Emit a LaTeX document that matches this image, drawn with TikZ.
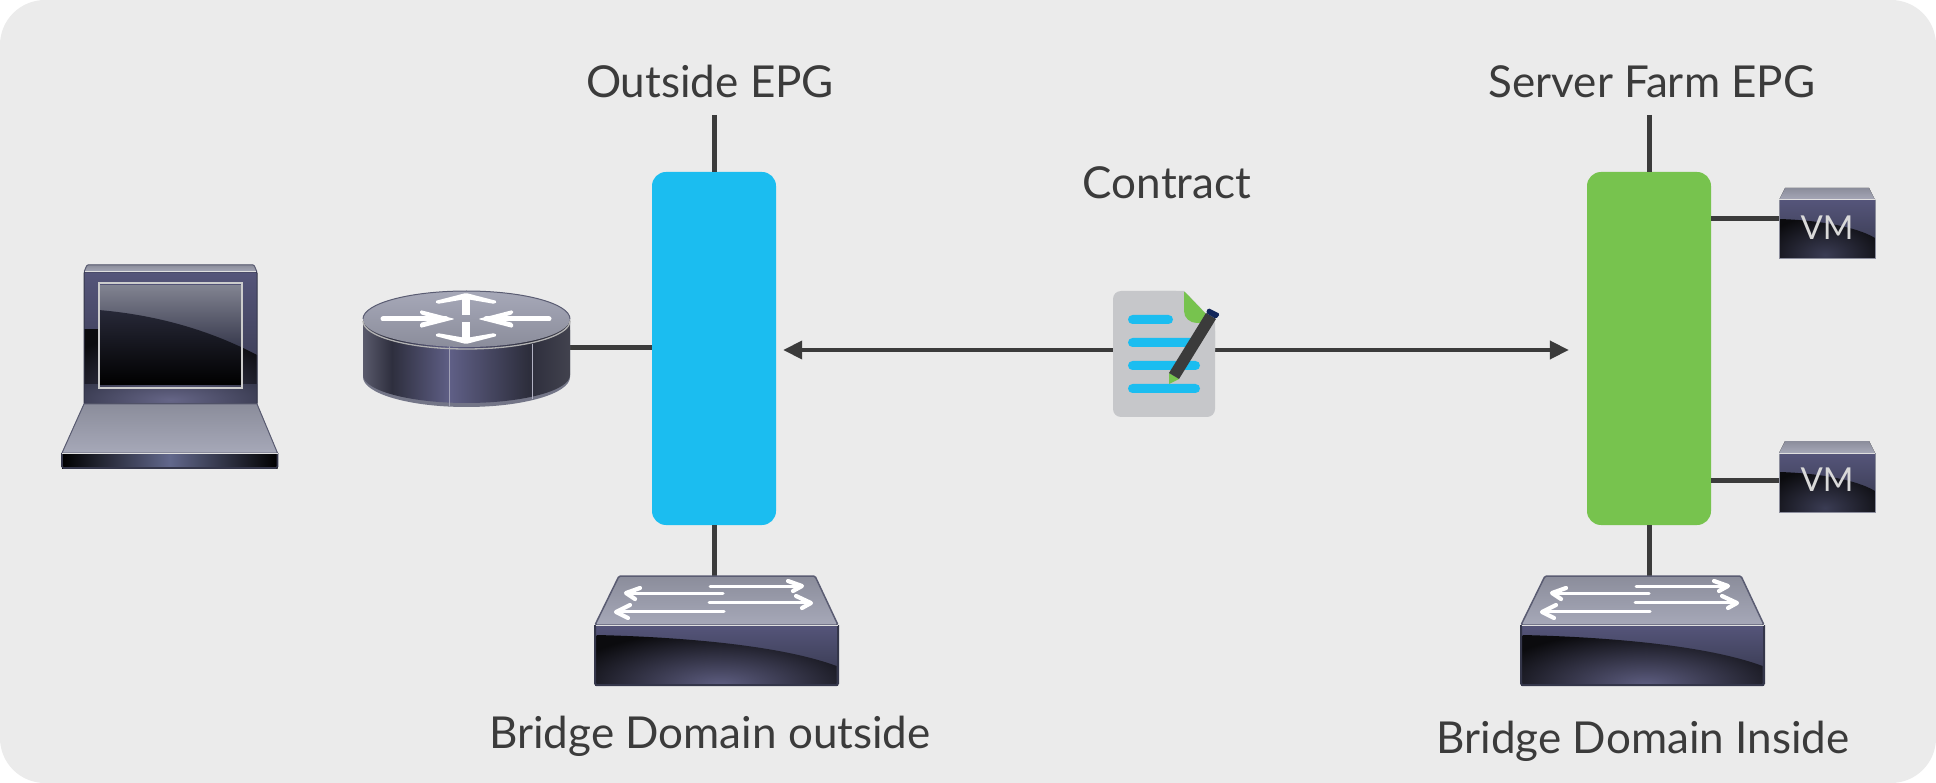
\documentclass[tikz,border=0pt]{standalone}
\usepackage{fontspec}
\setmainfont{Lato}
\usetikzlibrary{arrows.meta}
\definecolor{bgc}{HTML}{EBEBEB}
\definecolor{linec}{HTML}{3B3B3B}
\definecolor{blueb}{HTML}{1BBDF0}
\definecolor{greenb}{HTML}{77C34E}
\definecolor{docg}{HTML}{C6C7CA}
\definecolor{navy}{HTML}{12265A}
\definecolor{edge}{HTML}{5A5C72}
\definecolor{slate}{HTML}{55557A}
\definecolor{slated}{HTML}{34364A}
\definecolor{blackish}{HTML}{0B0B0E}
\definecolor{faceL}{HTML}{A6A8B8}
\definecolor{faceD}{HTML}{8B8D9B}
\definecolor{rsA}{HTML}{5A5A6C}
\definecolor{rsB}{HTML}{2E2F3E}
\definecolor{rsC}{HTML}{5F5F86}
\definecolor{rsD}{HTML}{2D2E3C}
\definecolor{rsE}{HTML}{42424E}
\definecolor{lfC}{HTML}{62688C}
\pgfdeclarehorizontalshading{routerside}{100bp}{color(0bp)=(rsA);color(25bp)=(rsA);color(32bp)=(rsB);color(46bp)=(rsC);color(65bp)=(rsD);color(75bp)=(rsE);color(100bp)=(rsE)}
\pgfdeclarehorizontalshading{laptopfront}{100bp}{color(0bp)=(black);color(25bp)=(black);color(50bp)=(lfC);color(75bp)=(black);color(100bp)=(black)}
\tikzset{
  x=1pt,y=-1pt,
  lnk/.style={draw=linec,line width=5pt},
  arr/.style={draw=linec,line width=4pt,-{Triangle[length=19pt,width=18pt]}},
  epg/.style={rounded corners=14pt,minimum width=124pt,minimum height=353pt,inner sep=0pt,draw=none},
  lab/.style={text=linec,font=\fontsize{44}{44}\selectfont,inner sep=0pt,anchor=base},
  slot/.style={minimum width=#1,inner sep=0pt,outer sep=0pt,draw=none},
  bar/.style={fill=blueb,rounded corners=4.5pt},
  wa/.style={draw=white,line width=3pt,line cap=round},
  wh/.style={draw=white,line width=4.2pt,line cap=round,line join=round},
  glint/.style={draw=white!88!black,line width=1pt},
  vmt/.style={text=white!85!black,inner sep=0,font=\fontsize{33}{33}\selectfont},
}
\newcommand{\swicon}[1]{%
\begin{scope}[xshift=#1pt]
  \fill[rounded corners=1.5pt,top color=faceD,bottom color=faceL,draw=edge,line width=1.5pt] (619,576)--(815,576)--(838,625)--(595,625)--cycle;
  \shade[top color=slate,bottom color=slated] (595,625) rectangle (838,685);
  \begin{scope}
    \clip (596.5,635) .. controls (680,637) and (780,645) .. (836.5,666) -- (836.5,684) -- (596.5,684) -- cycle;
    \shade[inner color=slate!95!white,outer color=blackish] (560,630) rectangle (880,740);
  \end{scope}
  \draw[draw=slated,line width=2pt,rounded corners=1.5pt] (595,625)--(595,685)--(838,685)--(838,625);
  \draw[glint,line width=1.3pt] (595.5,625.5)--(837.5,625.5);
  \draw[wa] (710,586)--(800,586); \draw[wh] (788,581)--(802,586)--(793,591);
  \draw[wa] (723,593)--(628,593); \draw[wh] (640,588)--(626,593)--(635,599);
  \draw[wa] (709,602)--(808,602); \draw[wh] (796,596)--(811,603)--(802,608);
  \draw[wa] (724,611)--(618,611); \draw[wh] (630,605)--(616,612)--(628,618);
\end{scope}}
\newcommand{\vmicon}[1]{%
\begin{scope}[yshift=-#1pt]
  \fill[top color=faceD,bottom color=faceL] (1785,188)--(1869,188)--(1875,200)--(1779,200)--cycle;
  \shade[top color=slate,bottom color=slated] (1779,200) rectangle (1875,259);
  \begin{scope}
    \clip (1779,219) .. controls (1815,220) and (1855,226) .. (1875,238) -- (1875,259) -- (1779,259) -- cycle;
    \shade[inner color=slated!80!slate,outer color=blackish] (1760,215) rectangle (1890,295);
  \end{scope}
  \draw[draw=edge!70!white,line width=1pt] (1779,200)--(1779,259)--(1875,259)--(1875,200);
  \draw[glint] (1779,200)--(1875,200);
\end{scope}}
\begin{document}
\begin{tikzpicture}
\useasboundingbox (0,0) rectangle (1936,783);
\fill[white] (0,0) rectangle (1936,783);
\fill[bgc,rounded corners=45pt] (0,0) rectangle (1936,783);

% ---- anchors of the devices
\node[epg,fill=blueb] (blue) at (714,348.5) {};
\node[epg,fill=greenb] (green) at (1649,348.5) {};
\coordinate (toplabL) at (714,115);
\coordinate (toplabR) at (1649,115);
\node[slot=243pt,minimum height=109pt] (swL) at (716.5,630.5) {};
\node[slot=243pt,minimum height=109pt] (swR) at (1642.5,630.5) {};
\node[slot=96pt,minimum height=71pt] (vmA) at (1827,223.5) {};
\node[slot=96pt,minimum height=70pt] (vmB) at (1827,476) {};
\node[slot=207pt,minimum height=88pt] (router) at (466.5,363) {};
\node[slot=216pt,minimum height=203pt] (laptop) at (170,366.5) {};
\node[slot=102pt,minimum height=126pt] (doc) at (1164,354) {};

% ---- connectors
\draw[lnk] (toplabL) -- (blue.north);
\draw[lnk] (toplabR) -- (green.north);
\draw[lnk] (blue.south) -- (blue.south |- swL.north);
\draw[lnk] (green.south) -- (green.south |- swR.north);
\draw[lnk] (router.east |- 0,348) -- (blue.west |- 0,348);
\draw[lnk] (green.east |- 0,219) -- (vmA.west |- 0,219);
\draw[lnk] (green.east |- 0,480) -- (vmB.west |- 0,480);
\draw[arr,shorten >=7pt] (doc.west |- 0,350) -- (blue.east |- 0,350);
\draw[arr,shorten >=18pt] (doc.east |- 0,350) -- (green.west |- 0,350);

% ---- laptop
\fill[top color=faceD,bottom color=faceL,rounded corners=1pt,draw=edge,line width=1pt] (87,265)--(254,265)--(257,272)--(84,272)--cycle;
\shade[top color=slate,bottom color=slated] (84,272) rectangle (257,404);
\begin{scope}
  \clip (84,309) .. controls (140,312) and (200,325) .. (257,355) -- (257,404) -- (84,404) -- cycle;
  \shade[inner color=slate!70!slated,outer color=blackish] (40,330) rectangle (300,470);
\end{scope}
\begin{scope}
  \clip (84,385) rectangle (257,404);
  \shade[inner color=slate!90!white,outer color=slated] (60,370) rectangle (281,430);
\end{scope}
\begin{scope}
  \clip (99,286) rectangle (242,388);
  \shade[top color=faceD!95!black,bottom color=slated] (99,283) rectangle (242,350);
  \clip (84,309) .. controls (140,312) and (200,325) .. (257,355) -- (257,404) -- (84,404) -- cycle;
  \shade[top color=slated!75!black,bottom color=black] (99,310) rectangle (242,385);
\end{scope}
\draw[draw=white!80!black,line width=1.2pt] (99,283) rectangle (242,388);
\draw[draw=slated,line width=1pt,rounded corners=1pt] (84,272) rectangle (257,404);
\draw[glint] (85,271.5)--(256,271.5);
\fill[top color=faceD,bottom color=faceL,draw=edge,line width=1pt] (84,404)--(257,404)--(277.5,453)--(62,453)--cycle;
\shade[shading=laptopfront] (62,453) rectangle (277.5,468);
\draw[draw=slated,line width=1.6pt,rounded corners=1.5pt] (62,453)--(62,468)--(277.5,468)--(277.5,453);
\draw[glint] (62,453)--(277.5,453);

% ---- router
\fill[edge!85!white] (363,377) arc[start angle=180,end angle=0,x radius=103.5,y radius=30] -- (570,330) -- (363,330) -- cycle;
\shade[shading=routerside] (363,319) -- (363,375) arc[start angle=180,end angle=0,x radius=103.5,y radius=28] -- (570,319) -- cycle;
\draw[white!45!slate,line width=.8pt] (449,346) -- (449,406);
\draw[white!55!slate,line width=1pt] (532,344) -- (532,399);
\shade[top color=faceL,bottom color=faceD] (466.5,319) ellipse[x radius=103.5,y radius=28];
\draw[edge,line width=1pt] (363,319) arc[start angle=180,end angle=360,x radius=103.5,y radius=28];
\draw[white!70!black,line width=1.3pt] (363,321) arc[start angle=180,end angle=0,x radius=103.5,y radius=28];
\draw[white,line width=5pt,line cap=round] (383,319)--(446,319);
\fill[white,rounded corners=1.5pt] (420,310)--(455,319)--(420,328)--(420,323)--(436,319)--(420,314)--cycle;
\draw[white,line width=5pt,line cap=round] (549,319)--(486,319);
\fill[white,rounded corners=1.5pt] (513,310)--(478,319)--(513,328)--(513,323)--(497,319)--(513,314)--cycle;
\fill[white] (462,315) rectangle (470,298);
\fill[white,rounded corners=1.5pt] (466,293)--(497,301)--(495,304)--(466,299)--(437,304)--(435,301)--cycle;
\fill[white] (462,322) rectangle (470,340);
\fill[white,rounded corners=1.5pt] (466,344)--(497,336)--(495,333)--(466,338)--(437,333)--(435,336)--cycle;

% ---- switches
\swicon{0}
\swicon{926}

% ---- VMs
\vmicon{0}
\vmicon{253}
\node[vmt] (vmtA) at (1827,228) {VM};
\node[vmt] (vmtB) at (1827,480) {VM};

% ---- contract document
\fill[docg,rounded corners=8pt] (1113,291) -- (1184,291) -- (1215,323) -- (1215,417) -- (1113,417) -- cycle;
\fill[docg] (1150,291) -- (1184,291) -- (1215,323) -- (1215,350) -- (1150,350) -- cycle;
\fill[greenb,rounded corners=1pt] (1184,291) -- (1207,315) -- (1207,323) -- (1198,323) .. controls (1190,323) and (1184,318) .. (1184,310) -- cycle;
\fill[bar] (1128,315) rectangle (1173,324);
\fill[bar] (1128,338) rectangle (1200,347);
\fill[bar] (1128,361) rectangle (1200,370);
\fill[bar] (1128,384) rectangle (1200,393);
\fill[greenb] (1169,373) -- (1179,379) -- (1169,384) -- cycle;
\fill[linec] (1206,313) -- (1216,319) -- (1179,379) -- (1169,373) -- cycle;
\fill[navy,rounded corners=1.5pt] (1208,308) -- (1220,314) -- (1216,319) -- (1206,313) -- cycle;

% ---- labels
\node[lab] (l1) at (710,98) {Outside EPG};
\node[lab] (l2) at (1652,98) {Server Farm EPG};
\node[lab] (l3) at (1167,199) {Contract};
\node[lab] (l4) at (710,748) {Bridge Domain outside};
\node[lab] (l5) at (1643,753) {Bridge Domain Inside};
\end{tikzpicture}
\end{document}
